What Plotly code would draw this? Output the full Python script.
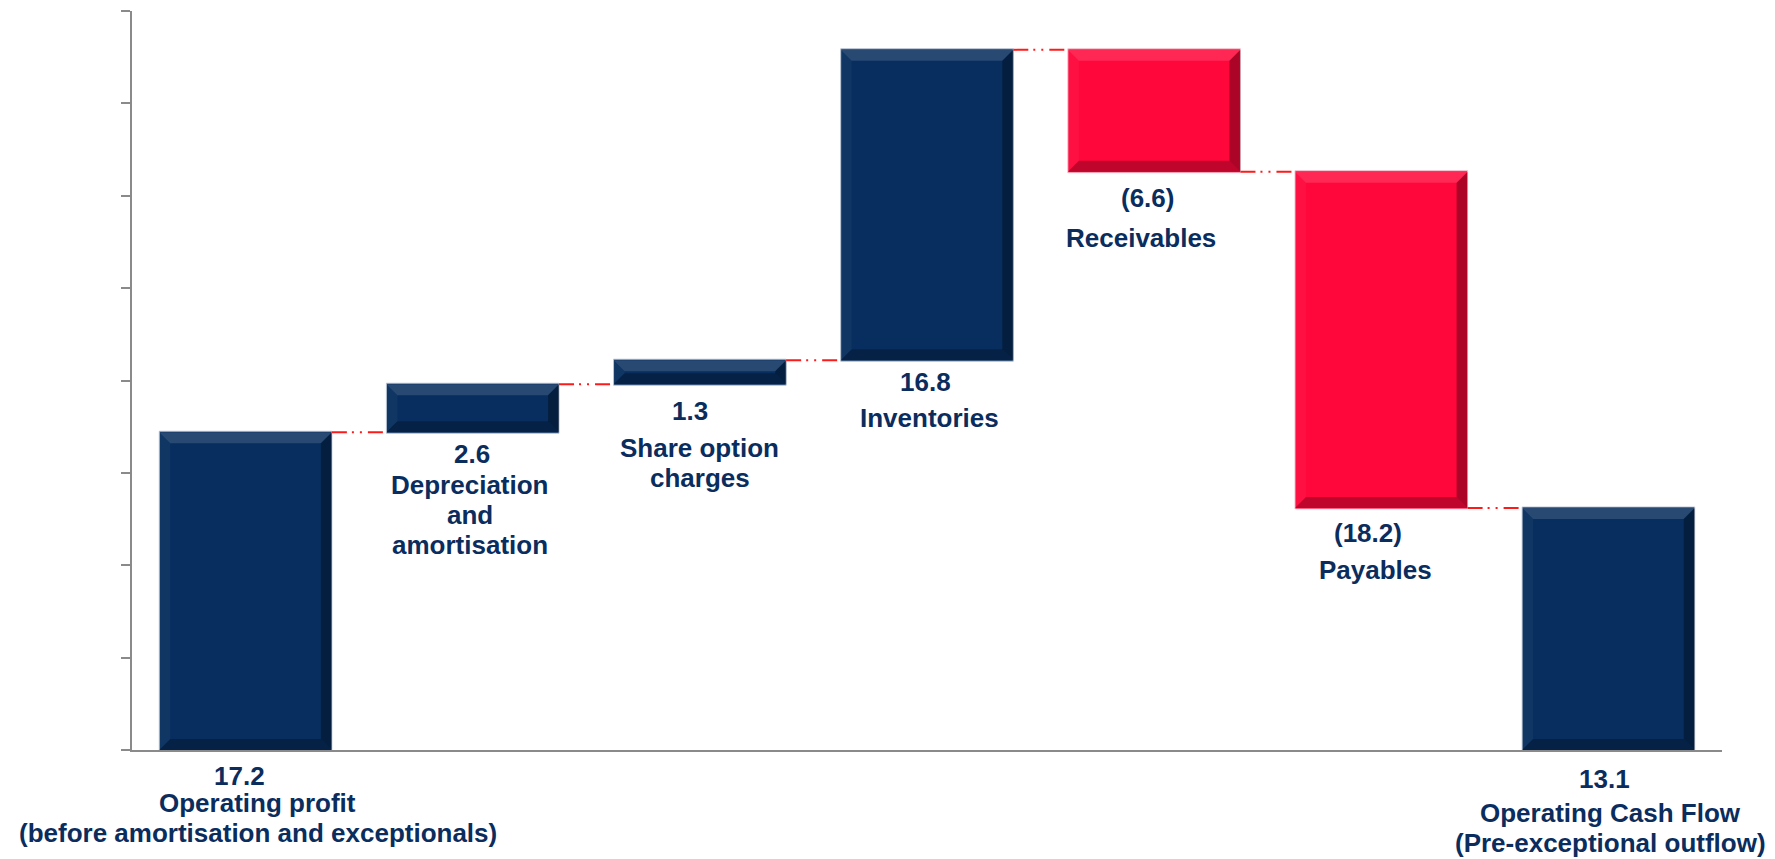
import plotly.graph_objects as go

# ---- data -------------------------------------------------------------
categories = [
    "Operating profit\n(before amortisation and exceptionals)",
    "Depreciation\nand\namortisation",
    "Share option\ncharges",
    "Inventories",
    "Receivables",
    "Payables",
    "Operating Cash Flow\n(Pre-exceptional outflow)",
]
values = [17.2, 2.6, 1.3, 16.8, -6.6, -18.2, 13.1]
measures = ["absolute", "relative", "relative", "relative", "relative", "relative", "total"]

# ---- styling ----------------------------------------------------------
NAVY = "#072e5e"
RED = "#ff073b"
TEXT = "#0a2d5e"
AXIS = "#8a8a8a"
FONT = "Liberation Sans, Arial, sans-serif"
FONT_SIZE = 26
LINE_H = 30

W, H = 1775, 859
ML, MR, MT, MB = 132, 53, 11, 109
Y_MAX, Y_DTICK = 40, 5
BAR_W = 0.76

# label placement below each bar (pixels under the bar bottom, to the text baseline)
value_drop = [35, 31, 36, 31, 35, 34, 38]
name_drop = [62, 62, 73, 67, 75, 71, 72]
value_dx = [-6, -1, -10, -2, -7, -13, -4]
name_dx = [12, -3, 0, 2, -13, -6, 2]

n = len(categories)
xs = list(range(n))

# running start / end level of every bar
starts, ends = [], []
level = 0.0
for v, m in zip(values, measures):
    if m == "absolute":
        s, e = 0.0, v
    elif m == "total":
        s, e = 0.0, level
    else:
        s, e = level, level + v
    level = e
    starts.append(s)
    ends.append(e)


def fmt(v):
    return f"({abs(v):.1f})" if v < 0 else f"{v:.1f}"


fig = go.Figure(
    go.Waterfall(
        x=xs,
        y=values,
        measure=measures,
        increasing=dict(marker=dict(color=NAVY, line=dict(color="rgba(190,200,215,0.9)", width=1))),
        decreasing=dict(marker=dict(color=RED, line=dict(color="rgba(240,200,210,0.9)", width=1))),
        totals=dict(marker=dict(color=NAVY, line=dict(color="rgba(190,200,215,0.9)", width=1))),
        connector=dict(mode="between", line=dict(color="#ff1a1a", width=2, dash="15px,5px,2px,6px,2px,6px")),
        hoverinfo="skip",
        textinfo="none",
    )
)

# bevelled edges on each bar
px_x = (W - ML - MR) / n
px_y = (H - MT - MB) / Y_MAX
shapes = []
for i, (s, e) in enumerate(zip(starts, ends)):
    lo, hi = min(s, e), max(s, e)
    h_px = (hi - lo) * px_y
    r = min(11.0, h_px / 2.0)
    dx, dy = r / px_x, r / px_y
    x0, x1 = i - BAR_W / 2, i + BAR_W / 2
    polys = [
        ([(x0, hi), (x1, hi), (x1 - dx, hi - dy), (x0 + dx, hi - dy)], "rgba(255,255,255,0.13)"),
        ([(x0, hi), (x0 + dx, hi - dy), (x0 + dx, lo + dy), (x0, lo)], "rgba(255,255,255,0.04)"),
        ([(x1, hi), (x1, lo), (x1 - dx, lo + dy), (x1 - dx, hi - dy)], "rgba(0,0,0,0.33)"),
        ([(x0, lo), (x1, lo), (x1 - dx, lo + dy), (x0 + dx, lo + dy)], "rgba(0,0,0,0.25)"),
    ]
    for pts, col in polys:
        path = "M " + " L ".join(f"{px},{py}" for px, py in pts) + " Z"
        shapes.append(dict(type="path", path=path, xref="x", yref="y",
                           fillcolor=col, line=dict(width=0), layer="above"))

# value and name labels under each bar
CENTER_TO_BASE = 9.0
annotations = []
for i, (cat, v) in enumerate(zip(categories, values)):
    lo = min(starts[i], ends[i])
    annotations.append(dict(
        x=i, y=lo, xref="x", yref="y", text=fmt(v), showarrow=False,
        yanchor="middle", xanchor="center",
        yshift=-(value_drop[i] - CENTER_TO_BASE), xshift=value_dx[i],
        font=dict(family=FONT, size=FONT_SIZE, color=TEXT, weight="bold"),
    ))
    for k, line in enumerate(cat.split("\n")):
        annotations.append(dict(
            x=i, y=lo, xref="x", yref="y", text=line, showarrow=False,
            yanchor="middle", xanchor="center",
            yshift=-(name_drop[i] + k * LINE_H - CENTER_TO_BASE), xshift=name_dx[i],
            font=dict(family=FONT, size=FONT_SIZE, color=TEXT, weight="bold"),
        ))

fig.update_layout(
    width=W, height=H,
    margin=dict(l=ML, r=MR, t=MT, b=MB),
    paper_bgcolor="white", plot_bgcolor="white",
    showlegend=False,
    waterfallgap=1 - BAR_W,
    shapes=shapes,
    annotations=annotations,
    xaxis=dict(range=[-0.5, n - 0.5], showticklabels=False, ticks="", showgrid=False,
               zeroline=False, showline=True, linecolor=AXIS, linewidth=2),
    yaxis=dict(range=[0, Y_MAX], dtick=Y_DTICK, tick0=0, showticklabels=False,
               ticks="outside", ticklen=9, tickwidth=2, tickcolor=AXIS,
               showgrid=False, zeroline=False, showline=True, linecolor=AXIS, linewidth=2),
)

fig.write_html("out.html", config=dict(displayModeBar=False))
